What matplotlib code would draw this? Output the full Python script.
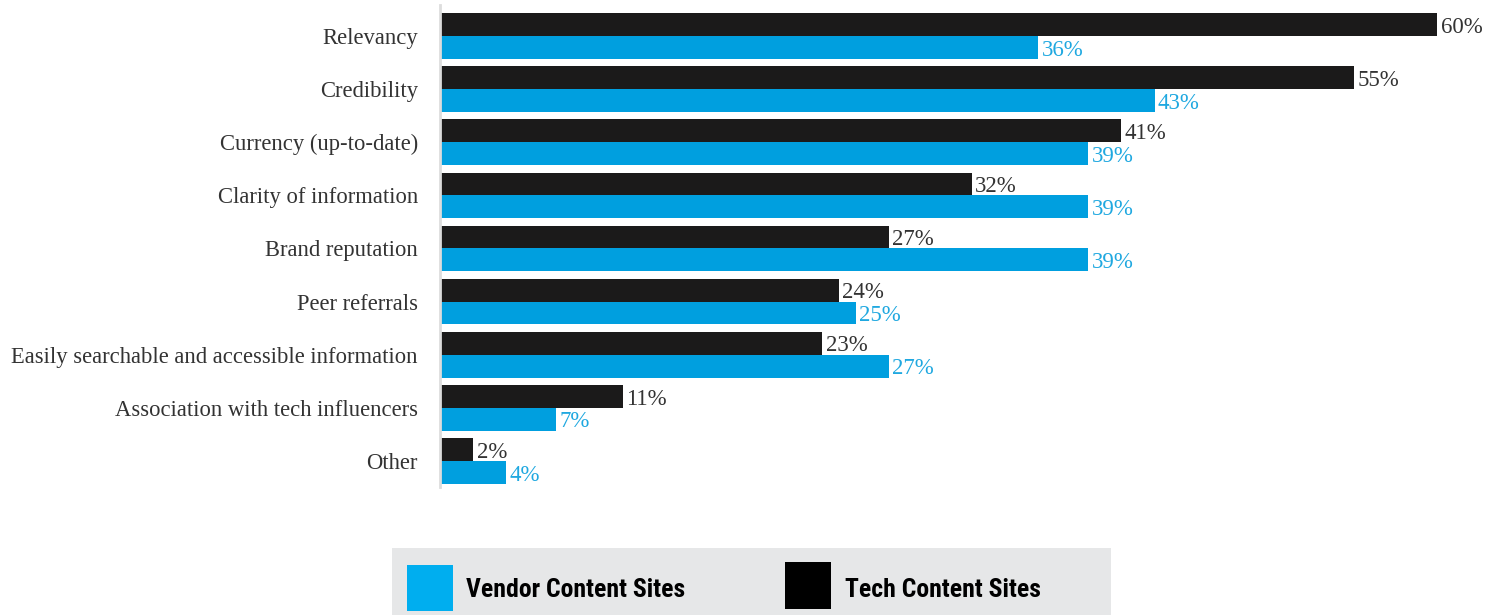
import matplotlib
matplotlib.use("Agg")
import matplotlib.pyplot as plt
import numpy as np
from matplotlib.patches import Rectangle
from matplotlib import font_manager

categories = ["Relevancy", "Credibility", "Currency (up-to-date)", "Clarity of information",
              "Brand reputation", "Peer referrals", "Easily searchable and accessible information",
              "Association with tech influencers", "Other"]
tech = [60, 55, 41, 32, 27, 24, 23, 11, 2]
vendor = [36, 43, 39, 39, 39, 25, 27, 7, 4]
series_names = ["Vendor Content Sites", "Tech Content Sites"]

blue = "#009fdf"
black = "#1b1a1a"
blue_txt = "#1fa8e0"
grey_txt = "#333333"


def first_font(names, default):
    for f in names:
        try:
            font_manager.findfont(f, fallback_to_default=False)
            return f
        except Exception:
            pass
    return default


serif = first_font(["Liberation Serif", "DejaVu Serif"], "serif")
narrow = first_font(["Noto Sans ExtraCondensed", "Noto Sans Condensed", "Roboto Condensed",
                     "Liberation Sans Narrow", "DejaVu Sans Condensed"], None)
if narrow is None:
    leg_font = dict(family="Liberation Sans", size=15)
else:
    leg_font = dict(family=narrow, size=18.5)

fig = plt.figure(figsize=(15.01, 6.15), dpi=100)
W, H = 1501, 615
ax = fig.add_axes([440 / W, (H - 487) / H, 1061 / W, 482 / H])

y = np.arange(len(categories))
bh = 0.43
ax.barh(y - bh / 2, tech, height=bh, color=black)
ax.barh(y + bh / 2, vendor, height=bh, color=blue)

for i in range(len(categories)):
    ax.text(tech[i] + 0.2, y[i] - bh / 2 + 0.05, f"{tech[i]}%", va="center", ha="left",
            fontsize=16.5, color=grey_txt, family=serif)
    ax.text(vendor[i] + 0.2, y[i] + bh / 2 + 0.05, f"{vendor[i]}%", va="center", ha="left",
            fontsize=16.5, color=blue_txt, family=serif)

ax.set_xlim(0, 1061 / 16.62)
ax.set_ylim(8.49, -0.584)
ax.set_yticks(y)
ax.set_yticklabels(categories, fontsize=16.3, color=grey_txt, family=serif)
ax.tick_params(axis="y", length=0, pad=16)
ax.set_xticks([])
for s in ["top", "right", "bottom"]:
    ax.spines[s].set_visible(False)
ax.spines["left"].set_color("#dddddd")
ax.spines["left"].set_linewidth(2)

# legend strip
fig.patches.append(Rectangle((392 / W, 0), 719 / W, 67 / H, transform=fig.transFigure,
                             facecolor="#e6e7e8", edgecolor="none"))
fig.patches.append(Rectangle((407 / W, 4 / H), 46 / W, 46 / H, transform=fig.transFigure,
                             facecolor="#00aeef", edgecolor="none"))
fig.patches.append(Rectangle((785 / W, 6 / H), 46 / W, 47 / H, transform=fig.transFigure,
                             facecolor="#000000", edgecolor="none"))
fig.text(466 / W, 25 / H, series_names[0], fontweight="bold",
         va="center", ha="left", color="#000000", **leg_font)
fig.text(845 / W, 25 / H, series_names[1], fontweight="bold",
         va="center", ha="left", color="#000000", **leg_font)

fig.savefig("out.png", dpi=100)
